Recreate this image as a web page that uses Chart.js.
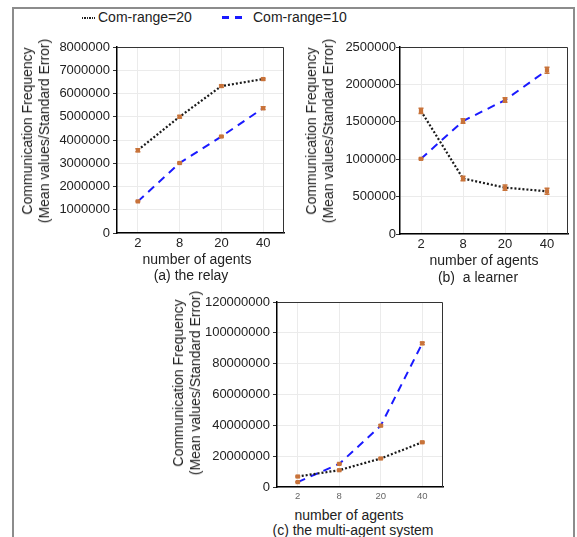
<!DOCTYPE html>
<html lang="en">
<head>
    <meta charset="UTF-8">
    <title>Communication Frequency</title>
    <script src="https://cdn.jsdelivr.net/npm/chart.js"></script>
    <style>
        body { margin: 0; background: #fff; width: 577px; height: 537px; overflow: hidden; position: relative; font-family: 'Liberation Sans', Arial, sans-serif; color: #222; }
        .frame { position: absolute; left: 12px; top: 7px; width: 559px; height: 560px; border: 2px solid #8c8c8c; border-bottom: none; }
        .box { position: absolute; }
        .lbl { position: absolute; font-size: 14px; white-space: nowrap; transform: translate(-50%, -50%); }
        .ytitle { position: absolute; font-size: 14px; line-height: 17px; text-align: center; white-space: nowrap; transform: translate(-50%, -50%) rotate(-90deg); }
        .legend { position: absolute; top: 8px; left: 0; font-size: 14px; }
        .legend span { position: absolute; white-space: nowrap; }
        .dots { width: 13px; height: 2px; background: repeating-linear-gradient(90deg, #222 0 1.5px, transparent 1.5px 2.5px); }
        .dashes { width: 20px; height: 3px; background: repeating-linear-gradient(90deg, #1a1aff 0 7px, transparent 7px 13px); }
    </style>
</head>
<body>
    <div class="frame"></div>
    <div class="legend">
        <span class="dots" style="left:82px; top:9px;"></span>
        <span style="left:98px; top:1px;">Com-range=20</span>
        <span class="dashes" style="left:222px; top:8px;"></span>
        <span style="left:253px; top:1px;">Com-range=10</span>
    </div>

    <div class="box" style="left:40px; top:35px; width:250px; height:220px;"><canvas id="relay"></canvas></div>
    <div class="box" style="left:320px; top:35px; width:252px; height:220px;"><canvas id="learner"></canvas></div>
    <div class="box" style="left:200px; top:290px; width:248px; height:215px;"><canvas id="mas"></canvas></div>

    <div class="ytitle" style="left:35.5px; top:131px;">Communication Frequency<br>(Mean values/Standard Error)</div>
    <div class="ytitle" style="left:319.5px; top:131px;">Communication Frequency<br>(Mean values/Standard Error)</div>
    <div class="ytitle" style="left:186.5px; top:383px;">Communication Frequency<br>(Mean values/Standard Error)</div>

    <div class="lbl" style="left:197px; top:259px;">number of agents</div>
    <div class="lbl" style="left:191px; top:275px;">(a) the relay</div>
    <div class="lbl" style="left:484px; top:260px;">number of agents</div>
    <div class="lbl" style="left:478px; top:277px;">(b)&nbsp; a learner</div>
    <div class="lbl" style="left:349px; top:515px;">number of agents</div>
    <div class="lbl" style="left:353px; top:530px;">(c) the multi-agent system</div>

    <script>
        const agents = ['2', '8', '20', '40'];

        const relayR20 = [3560000, 5000000, 6320000, 6620000];
        const relayR10 = [1360000, 3010000, 4150000, 5370000];
        const relayR20Err = [60000, 50000, 50000, 40000];
        const relayR10Err = [20000, 30000, 30000, 60000];

        const learnerR20 = [1645000, 742000, 620000, 571000];
        const learnerR10 = [1005000, 1510000, 1790000, 2190000];
        const learnerR20Err = [35000, 30000, 35000, 40000];
        const learnerR10Err = [10000, 30000, 30000, 40000];

        const masR20 = [6800000, 10900000, 18500000, 29000000];
        const masR10 = [3200000, 15000000, 39800000, 93200000];
        const masR20Err = [300000, 300000, 400000, 500000];
        const masR10Err = [200000, 400000, 500000, 700000];

        const orange = '#c8733a';

        const extras = {
            id: 'extras',
            afterDatasetsDraw(chart) {
                const { ctx, chartArea: a, scales: { y } } = chart;
                ctx.save();
                ctx.strokeStyle = orange;
                ctx.lineWidth = 1.5;
                chart.data.datasets.forEach((ds, i) => {
                    const meta = chart.getDatasetMeta(i);
                    ds.data.forEach((v, j) => {
                        const px = meta.data[j].x;
                        const t = y.getPixelForValue(v + ds.err[j]);
                        const b = y.getPixelForValue(v - ds.err[j]);
                        ctx.beginPath();
                        ctx.moveTo(px, t); ctx.lineTo(px, b);
                        ctx.moveTo(px - 2.5, t); ctx.lineTo(px + 2.5, t);
                        ctx.moveTo(px - 2.5, b); ctx.lineTo(px + 2.5, b);
                        ctx.stroke();
                    });
                });
                ctx.strokeStyle = '#333';
                ctx.lineWidth = 1;
                ctx.beginPath();
                ctx.moveTo(a.left, a.top + 0.5);
                ctx.lineTo(a.right - 0.5, a.top + 0.5);
                ctx.lineTo(a.right - 0.5, a.bottom);
                ctx.stroke();
                ctx.restore();
            }
        };

        function makeChart(id, r20, r10, e20, e10, yMax, yStep, opt) {
            new Chart(document.getElementById(id), {
                type: 'line',
                data: {
                    labels: agents,
                    datasets: [
                        {
                            label: 'Com-range=20', data: r20, err: e20,
                            borderColor: '#1a1a1a', borderWidth: 2.2, borderDash: [2, 2],
                            pointStyle: 'rect', pointRadius: 3, pointBackgroundColor: orange, pointBorderWidth: 0
                        },
                        {
                            label: 'Com-range=10', data: r10, err: e10,
                            borderColor: '#1a1aff', borderWidth: 2, borderDash: [8, 6],
                            pointStyle: 'rect', pointRadius: 3, pointBackgroundColor: orange, pointBorderWidth: 0
                        }
                    ]
                },
                options: {
                    responsive: true,
                    maintainAspectRatio: false,
                    animation: false,
                    layout: { padding: { top: 12, right: opt.padRight, left: 0, bottom: 0 } },
                    plugins: { legend: { display: false }, tooltip: { enabled: false } },
                    scales: {
                        x: {
                            offset: true,
                            afterFit: s => { s.height = opt.xHeight; },
                            grid: { color: '#ebebeb', offset: false, drawTicks: false },
                            border: { color: '#000', width: 1.5 },
                            ticks: {
                                padding: opt.xPad,
                                color: opt.xColor,
                                font: { family: 'Liberation Sans', size: opt.xSize }
                            }
                        },
                        y: {
                            min: 0, max: yMax,
                            afterFit: s => { s.width = opt.yWidth; },
                            grid: { color: '#ebebeb', tickColor: '#333', tickLength: 4 },
                            border: { color: '#000', width: 1.5 },
                            ticks: {
                                stepSize: yStep,
                                autoSkip: false,
                                padding: opt.yPad,
                                color: '#222',
                                font: { family: 'Liberation Sans', size: 13 },
                                callback: v => String(v)
                            }
                        }
                    }
                },
                plugins: [extras]
            });
        }

        makeChart('relay', relayR20, relayR10, relayR20Err, relayR10Err, 8000000, 1000000,
            { padRight: 6, xHeight: 22, yWidth: 77, yPad: 3, xPad: 3, xSize: 13, xColor: '#222' });
        makeChart('learner', learnerR20, learnerR10, learnerR20Err, learnerR10Err, 2500000, 500000,
            { padRight: 4, xHeight: 21, yWidth: 80, yPad: 0, xPad: 3, xSize: 13, xColor: '#222' });
        makeChart('mas', masR20, masR10, masR20Err, masR10Err, 120000000, 20000000,
            { padRight: 5, xHeight: 18, yWidth: 77, yPad: 3, xPad: 4, xSize: 9.5, xColor: '#666' });
    </script>
</body>
</html>
